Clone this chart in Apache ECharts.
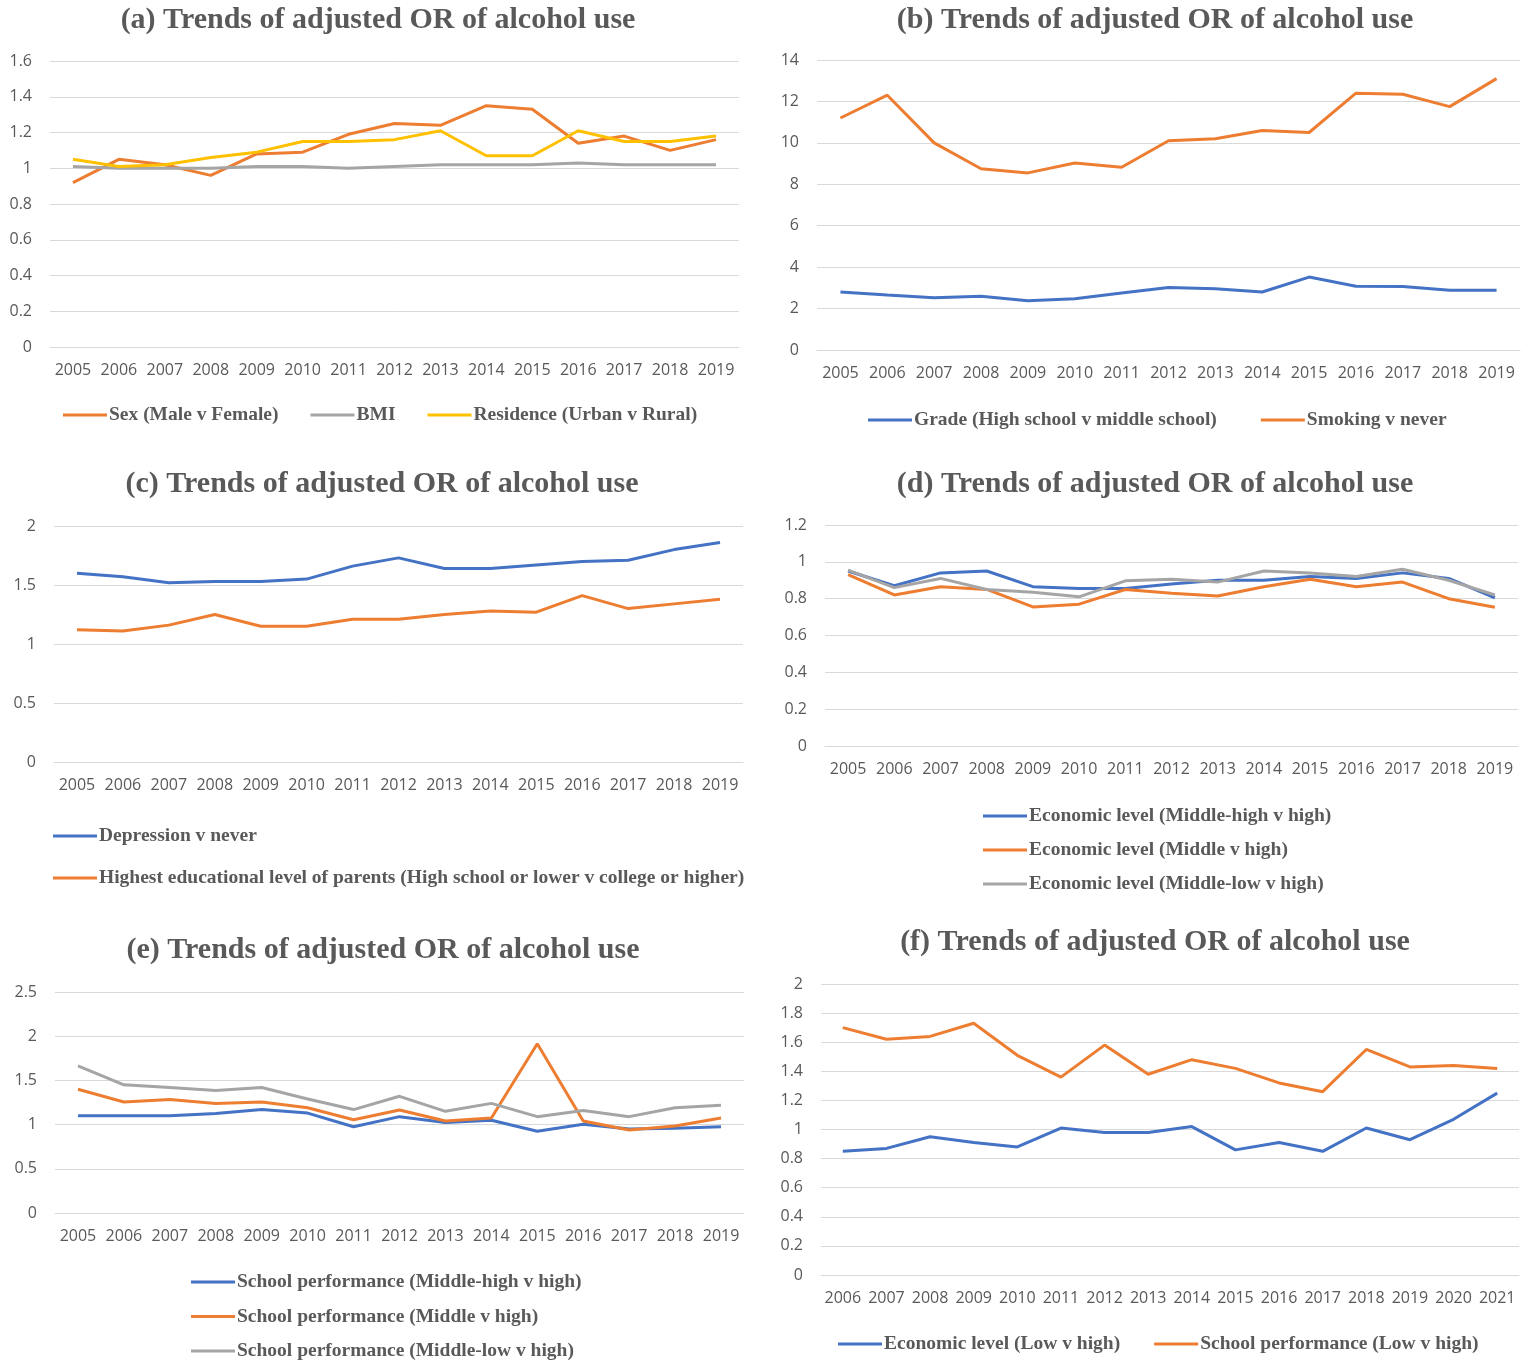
<!DOCTYPE html>
<html>
<head>
<meta charset="utf-8">
<script src="https://cdn.jsdelivr.net/npm/echarts@6/dist/echarts.min.js"></script>
<style>
html,body{margin:0;padding:0;background:#fff;}
#chart{width:1529px;height:1368px;}
</style>
</head>
<body>
<div id="chart"></div>
<script>
// ---------- DATA ----------
const years0519 = ['2005','2006','2007','2008','2009','2010','2011','2012','2013','2014','2015','2016','2017','2018','2019'];
const years0621 = ['2006','2007','2008','2009','2010','2011','2012','2013','2014','2015','2016','2017','2018','2019','2020','2021'];

// (a)
const aSex = [0.92,1.05,1.02,0.96,1.08,1.09,1.19,1.25,1.24,1.35,1.33,1.14,1.18,1.10,1.16];
const aBMI = [1.01,1.00,1.00,1.00,1.01,1.01,1.00,1.01,1.02,1.02,1.02,1.03,1.02,1.02,1.02];
const aResidence = [1.05,1.01,1.02,1.06,1.09,1.15,1.15,1.16,1.21,1.07,1.07,1.21,1.15,1.15,1.18];
// (b)
const bGrade = [2.80,2.65,2.52,2.60,2.38,2.47,2.75,3.02,2.96,2.80,3.52,3.08,3.07,2.88,2.88];
const bSmoking = [11.2,12.3,10.0,8.75,8.55,9.03,8.82,10.1,10.2,10.6,10.5,12.4,12.35,11.75,13.1];
// (c)
const cDepression = [1.60,1.57,1.52,1.53,1.53,1.55,1.66,1.73,1.64,1.64,1.67,1.70,1.71,1.80,1.86];
const cParents = [1.12,1.11,1.16,1.25,1.15,1.15,1.21,1.21,1.25,1.28,1.27,1.41,1.30,1.34,1.38];
// (d)
const dMidHigh = [0.95,0.87,0.94,0.95,0.865,0.855,0.855,0.88,0.90,0.90,0.92,0.91,0.94,0.91,0.805];
const dMiddle = [0.93,0.82,0.865,0.85,0.755,0.77,0.85,0.83,0.815,0.865,0.905,0.865,0.89,0.80,0.753];
const dMidLow = [0.955,0.86,0.91,0.85,0.835,0.81,0.897,0.905,0.89,0.95,0.94,0.92,0.96,0.90,0.82];
// (e)
const eMidHigh = [1.10,1.10,1.10,1.125,1.17,1.13,0.975,1.09,1.025,1.05,0.925,1.005,0.95,0.96,0.975];
const eMiddle = [1.40,1.255,1.285,1.24,1.255,1.19,1.055,1.165,1.04,1.075,1.915,1.04,0.94,0.985,1.075];
const eMidLow = [1.665,1.45,1.42,1.385,1.42,1.29,1.17,1.32,1.15,1.24,1.09,1.16,1.09,1.19,1.22];
// (f)
const fEconomic = [0.85,0.87,0.95,0.91,0.88,1.01,0.98,0.98,1.02,0.86,0.91,0.85,1.01,0.93,1.07,1.25];
const fSchool = [1.70,1.62,1.64,1.73,1.51,1.36,1.58,1.38,1.48,1.42,1.32,1.26,1.55,1.43,1.44,1.42];

const titleText = ['(a) Trends of adjusted OR of alcohol use','(b) Trends of adjusted OR of alcohol use','(c) Trends of adjusted OR of alcohol use','(d) Trends of adjusted OR of alcohol use','(e) Trends of adjusted OR of alcohol use','(f) Trends of adjusted OR of alcohol use'];

// ---------- STYLE ----------
const BLUE = '#4472C4', ORANGE = '#ED7D31', GRAY = '#A5A5A5', YELLOW = '#FFC000';
const TXT = '#595959';
const GRIDC = '#D9D9D9';

const panels = [
  {title:{x:378,y:5}, grid:{left:50,top:61,width:689,height:286}, y:{max:1.6,interval:0.2}, cats:years0519,
   series:[['Sex (Male v Female)',aSex,ORANGE],['BMI',aBMI,GRAY],['Residence (Urban v Rural)',aResidence,YELLOW]],
   legend:{left:63,top:405,orient:'horizontal',gap:32}},
  {title:{x:1155,y:5}, grid:{left:817,top:60,width:703,height:290}, y:{max:14,interval:2}, cats:years0519,
   series:[['Grade (High school v middle school)',bGrade,BLUE],['Smoking v never',bSmoking,ORANGE]],
   legend:{left:868,top:410,orient:'horizontal',gap:44}},
  {title:{x:382,y:469}, grid:{left:54,top:526,width:689,height:236}, y:{max:2,interval:0.5}, cats:years0519,
   series:[['Depression v never',cDepression,BLUE],['Highest educational level of parents (High school or lower v college or higher)',cParents,ORANGE]],
   legend:{left:53,top:826,orient:'vertical',gap:22}},
  {title:{x:1155,y:469}, grid:{left:825,top:525,width:693,height:221}, y:{max:1.2,interval:0.2}, cats:years0519,
   series:[['Economic level (Middle-high v high)',dMidHigh,BLUE],['Economic level (Middle v high)',dMiddle,ORANGE],['Economic level (Middle-low v high)',dMidLow,GRAY]],
   legend:{left:983,top:806,orient:'vertical',gap:14}},
  {title:{x:383,y:935}, grid:{left:55,top:992,width:689,height:221}, y:{max:2.5,interval:0.5}, cats:years0519,
   series:[['School performance (Middle-high v high)',eMidHigh,BLUE],['School performance (Middle v high)',eMiddle,ORANGE],['School performance (Middle-low v high)',eMidLow,GRAY]],
   legend:{left:191,top:1272,orient:'vertical',gap:14.5}},
  {title:{x:1155,y:927}, grid:{left:821,top:984,width:698,height:291}, y:{max:2,interval:0.2}, cats:years0621,
   series:[['Economic level (Low v high)',fEconomic,BLUE],['School performance (Low v high)',fSchool,ORANGE]],
   legend:{left:838,top:1334,orient:'horizontal',gap:34}}
];

const option = {
  backgroundColor:'#fff',
  animation:false,
  title:[], grid:[], xAxis:[], yAxis:[], series:[], legend:[]
};

panels.forEach((p,i)=>{
  option.title.push({
    text:titleText[i], left:p.title.x, top:p.title.y, textAlign:'center', padding:0,
    textStyle:{fontFamily:'Liberation Serif', fontWeight:'bold', fontSize:30, color:TXT}
  });
  option.grid.push(Object.assign({containLabel:false}, p.grid));
  option.xAxis.push({
    type:'category', gridIndex:i, data:p.cats, boundaryGap:true,
    axisLine:{show:true,lineStyle:{color:GRIDC,width:1}}, axisTick:{show:false},
    axisLabel:{interval:0, color:TXT, fontFamily:'Open Sans', fontSize:16, margin:15}
  });
  option.yAxis.push({
    type:'value', gridIndex:i, min:0, max:p.y.max, interval:p.y.interval,
    axisLine:{show:false}, axisTick:{show:false},
    splitLine:{lineStyle:{color:GRIDC,width:1}},
    axisLabel:{color:TXT, fontFamily:'Open Sans', fontSize:16, margin:18}
  });
  const names = [];
  p.series.forEach(s=>{
    names.push(s[0]);
    option.series.push({
      name:s[0], type:'line', xAxisIndex:i, yAxisIndex:i, data:s[1],
      symbol:'none', lineStyle:{color:s[2], width:3}, itemStyle:{color:s[2]}
    });
  });
  option.legend.push({
    data:names, left:p.legend.left, top:p.legend.top, orient:p.legend.orient, padding:0,
    itemGap:p.legend.gap, itemWidth:44, itemHeight:3, icon:'rect',
    textStyle:{fontFamily:'Liberation Serif', fontWeight:'bold', fontSize:19.5, color:TXT, padding:[0,0,0,-3]},
    selectedMode:false
  });
});

const chart = echarts.init(document.getElementById('chart'), null, {renderer:'canvas'});
chart.setOption(option);
</script>
</body>
</html>
